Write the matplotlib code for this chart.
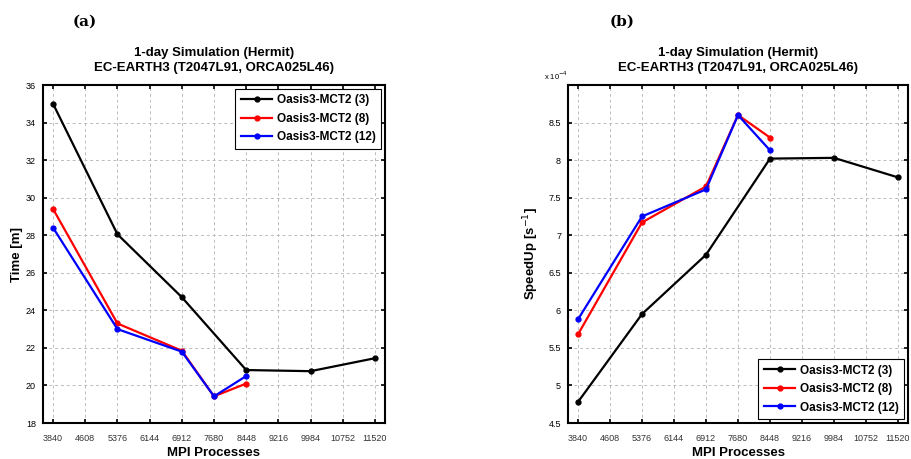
import numpy as np
import matplotlib.pyplot as plt

plt.rcParams['font.family'] = ['Liberation Sans', 'DejaVu Sans']

# MPI processes on the x axis
procs = [3840, 4608, 5376, 6144, 6912, 7680, 8448, 9216, 9984, 10752, 11520]

# (a) time in minutes
x3 = [3840, 5376, 6912, 8448, 9984, 11520]
t3 = [35.0, 28.05, 24.7, 20.82, 20.76, 21.45]
x8 = [3840, 5376, 6912, 7680, 8448]
t8 = [29.4, 23.3, 21.85, 19.42, 20.1]
x12 = [3840, 5376, 6912, 7680, 8448]
t12 = [28.4, 23.0, 21.8, 19.42, 20.5]

# (b) speedup (x 1e-4)
s3 = [4.78, 5.95, 6.74, 8.02, 8.03, 7.77]
s8 = [5.68, 7.17, 7.65, 8.6, 8.3]
s12 = [5.88, 7.25, 7.61, 8.6, 8.13]

labels = ['Oasis3-MCT2 (3)', 'Oasis3-MCT2 (8)', 'Oasis3-MCT2 (12)']
colors = ['black', 'red', 'blue']

fig = plt.figure(figsize=(9.11, 4.59), dpi=100)
ax1 = fig.add_axes([43 / 911, 36 / 459, 342 / 911, 338 / 459])
ax2 = fig.add_axes([568 / 911, 36 / 459, 340 / 911, 338 / 459])


def style(ax):
    ax.set_xlim(3600, 11760)
    ax.set_xticks(procs)
    ax.set_xticklabels([str(p) for p in procs], color='#333333')
    ax.tick_params(direction='in', top=True, right=True, length=3, width=1.2,
                   labelsize=6.5, pad=5)
    ax.tick_params(axis='x', pad=8)
    ax.grid(True, linestyle=(0, (3, 3)), color='#bbbbbb', linewidth=0.7)
    for sp in ax.spines.values():
        sp.set_linewidth(1.5)
    ax.set_xlabel('MPI Processes', fontsize=9.5, fontweight='bold', labelpad=3)
    ax.set_title('1-day Simulation (Hermit)\nEC-EARTH3 (T2047L91, ORCA025L46)',
                 fontsize=9.5, fontweight='bold', pad=10, linespacing=1.3)


def legend(ax, loc):
    leg = ax.legend(loc=loc, prop={'size': 8.5, 'weight': 'bold'},
                    fancybox=False, edgecolor='black', framealpha=1,
                    handlelength=2.6, borderpad=0.5, labelspacing=0.55,
                    borderaxespad=0.3, handletextpad=0.4)
    leg.get_frame().set_linewidth(0.8)


series_t = [(x3, t3), (x8, t8), (x12, t12)]
for (xs, ys), c, lab in zip(series_t, colors, labels):
    ax1.plot(xs, ys, '-o', color=c, lw=1.6, ms=3.5, label=lab)
style(ax1)
ax1.set_ylim(18, 36)
ax1.set_yticks(np.arange(18, 37, 2))
ax1.set_ylabel('Time [m]', fontsize=9.5, fontweight='bold', labelpad=2)
legend(ax1, 'upper right')

series_s = [(x3, s3), (x8, s8), (x12, s12)]
for (xs, ys), c, lab in zip(series_s, colors, labels):
    ax2.plot(xs, ys, '-o', color=c, lw=1.6, ms=3.5, label=lab)
style(ax2)
ax2.set_ylim(4.5, 9)
ax2.set_yticks(np.arange(4.5, 8.6, 0.5))
ax2.set_yticklabels(['4.5', '5', '5.5', '6', '6.5', '7', '7.5', '8', '8.5'])
ax2.set_ylabel('SpeedUp [s$^{-1}$]', fontsize=9.5, fontweight='bold', labelpad=5)
ax2.text(0.0, 1.01, r'x 10$^{-4}$', transform=ax2.transAxes, fontsize=5.5,
         ha='right', va='bottom')
legend(ax2, 'lower right')

fig.text(85 / 911, 1 - 22 / 459, '(a)', fontsize=11, fontweight='bold',
         family='DejaVu Serif', ha='center', va='center')
fig.text(622 / 911, 1 - 22 / 459, '(b)', fontsize=11, fontweight='bold',
         family='DejaVu Serif', ha='center', va='center')

fig.savefig('out.png', dpi=100)
